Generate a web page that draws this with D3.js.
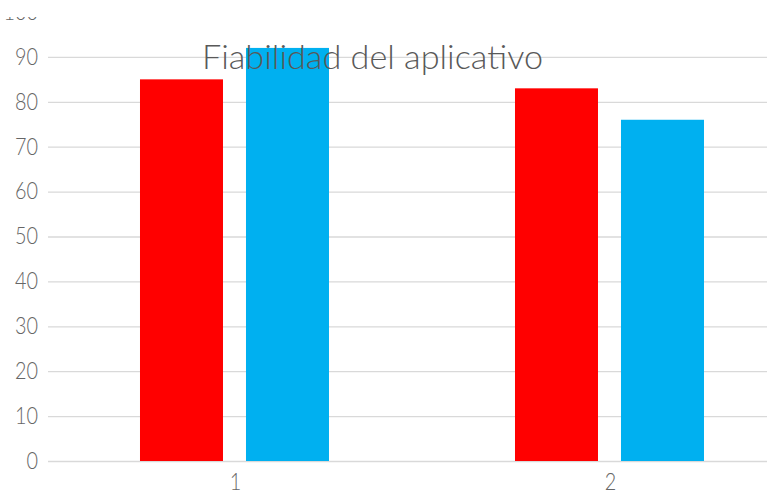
<!DOCTYPE html>
<html><head><meta charset="utf-8">
<script src="https://cdn.jsdelivr.net/npm/d3@7"></script>
<style>body{margin:0;background:#fff;overflow:hidden}svg{display:block}</style>
</head><body>
<svg id="c" width="767" height="499"></svg>
<script>
const categories = ["1", "2"];
const seriesNames = ["Serie1", "Serie2"];
const serie1 = [85, 83];
const serie2 = [92, 76];
const yTicks = [0, 10, 20, 30, 40, 50, 60, 70, 80, 90, 100];
const title = "Fiabilidad del aplicativo";
const colors = ["#ff0000", "#00b0f0"];

const svg = d3.select("#c");
const y = d3.scaleLinear().domain([0, 100]).range([461, 12]);
const x0 = d3.scaleBand().domain(categories).range([48, 798]);
const bw = x0.bandwidth();
const x1 = d3.scaleBand().domain(seriesNames).range([bw * 0.2453, bw * 0.7493]).paddingInner(0.217);

// clip the top (original image cut off)
svg.append("clipPath").attr("id", "cl").append("rect").attr("x", 0).attr("y", 17).attr("width", 767).attr("height", 499);

const g = svg.append("g").attr("clip-path", "url(#cl)");
const labelFont = "Lato, 'Liberation Sans Narrow', 'DejaVu Sans Condensed', sans-serif";

// gridlines
const yAxis = d3.axisLeft(y).tickValues(yTicks).tickSize(0).tickFormat(d => d);
const ga = g.append("g").attr("transform", "translate(48,0)").call(yAxis);
ga.select(".domain").remove();
ga.selectAll(".tick line").attr("x2", d => d === 100 ? 0 : 767 - 48).attr("stroke", "#d9d9d9").attr("stroke-width", 1.3);
ga.selectAll(".tick text")
  .attr("x", -10)
  .attr("fill", "#666")
  .style("font-family", labelFont)
  .style("font-weight", 300)
  .style("font-size", "23px")
  .attr("textLength", d => String(d).length * 11.5)
  .attr("lengthAdjust", "spacingAndGlyphs");

// bars
const data = categories.map((c, i) => ({ c, vals: [serie1[i], serie2[i]] }));
const grp = g.selectAll(".grp").data(data).join("g").attr("transform", d => `translate(${x0(d.c)},0)`);
grp.selectAll("rect").data(d => d.vals.map((v, j) => ({ s: seriesNames[j], v, j })))
  .join("rect")
  .attr("x", d => x1(d.s))
  .attr("width", x1.bandwidth())
  .attr("y", d => y(d.v))
  .attr("height", d => y(0) - y(d.v))
  .attr("fill", d => colors[d.j]);

// x axis labels
const xAxis = d3.axisBottom(x0).tickSize(0);
const gx = g.append("g").attr("transform", `translate(0,${y(0)})`).call(xAxis);
gx.select(".domain").remove();
gx.selectAll(".tick text")
  .attr("y", 13)
  .attr("fill", "#666")
  .style("font-family", labelFont)
  .style("font-weight", 300)
  .style("font-size", "23px")
  .attr("textLength", 11.5)
  .attr("lengthAdjust", "spacingAndGlyphs");

// title
g.append("text")
  .attr("x", 202).attr("y", 69)
  .attr("fill", "#595959")
  .style("font-family", labelFont)
  .style("font-weight", 300)
  .style("font-size", "34px")
  .attr("textLength", 341)
  .attr("lengthAdjust", "spacingAndGlyphs")
  .text(title);
</script>
</body></html>
